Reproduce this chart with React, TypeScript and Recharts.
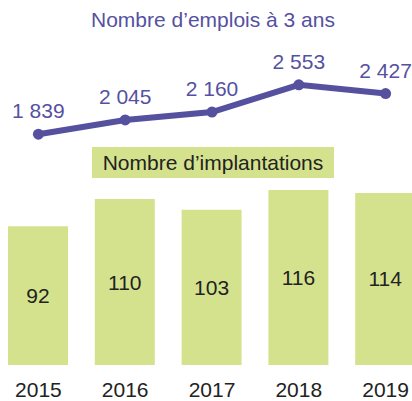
import { Bar, ComposedChart, LabelList, Line, XAxis, YAxis } from 'recharts'

const years = ['2015', '2016', '2017', '2018', '2019']
const emplois = [1839, 2045, 2160, 2553, 2427]
const implantations = [92, 110, 103, 116, 114]

const PURPLE = '#55519f'
const GREEN = '#d5e28d'
const FONT = '"Liberation Sans", Arial, sans-serif'

const data = years.map((year, i) => ({
  year,
  emplois: emplois[i],
  implantations: implantations[i],
}))

// "1 839" style with a plain space as thousands separator
const frNumber = (v: any) => String(v).replace(/\B(?=(\d{3})+(?!\d))/g, ' ')

export default function App() {
  return (
    <div
      style={{
        position: 'absolute',
        left: 0,
        top: 0,
        width: 412,
        height: 401,
        overflow: 'hidden',
        background: '#fff',
        fontFamily: FONT,
      }}
    >
      <div style={{ position: 'absolute', left: -5, top: 0 }}>
        <ComposedChart
          width={434}
          height={401}
          data={data}
          margin={{ top: 0, right: 0, left: 0, bottom: 0 }}
        >
          <XAxis
            dataKey="year"
            height={36}
            axisLine={false}
            tickLine={false}
            tickMargin={11}
            interval={0}
            tick={{ fill: '#222', fontSize: 21, fontFamily: FONT }}
          />
          <YAxis yAxisId="bars" hide domain={[0, 242]} />
          <YAxis yAxisId="line" hide domain={[-1500, 3780]} />
          <Bar
            yAxisId="bars"
            dataKey="implantations"
            fill={GREEN}
            barSize={60}
            activeBar={false}
            isAnimationActive={false}
          >
            <LabelList
              dataKey="implantations"
              position="center"
              fill="#222"
              fontSize={21}
              fontFamily={FONT}
            />
          </Bar>
          <Line
            yAxisId="line"
            dataKey="emplois"
            stroke={PURPLE}
            strokeWidth={6}
            dot={{ r: 5.5, fill: PURPLE, stroke: PURPLE, strokeWidth: 0 }}
            activeDot={false}
            isAnimationActive={false}
          >
            <LabelList
              dataKey="emplois"
              position="top"
              offset={16}
              fill={PURPLE}
              fontSize={21}
              fontFamily={FONT}
              formatter={frNumber}
            />
          </Line>
        </ComposedChart>
      </div>
      <svg
        width={412}
        height={401}
        style={{ position: 'absolute', left: 0, top: 0, pointerEvents: 'none' }}
      >
        <text x={213} y={27} textAnchor="middle" fill={PURPLE} fontSize={21} fontFamily={FONT}>
          Nombre d’emplois à 3 ans
        </text>
        <rect x={92} y={147} width={242} height={31} fill={GREEN} />
        <text x={213} y={170} textAnchor="middle" fill="#222" fontSize={21} fontFamily={FONT}>
          Nombre d’implantations
        </text>
      </svg>
    </div>
  )
}
